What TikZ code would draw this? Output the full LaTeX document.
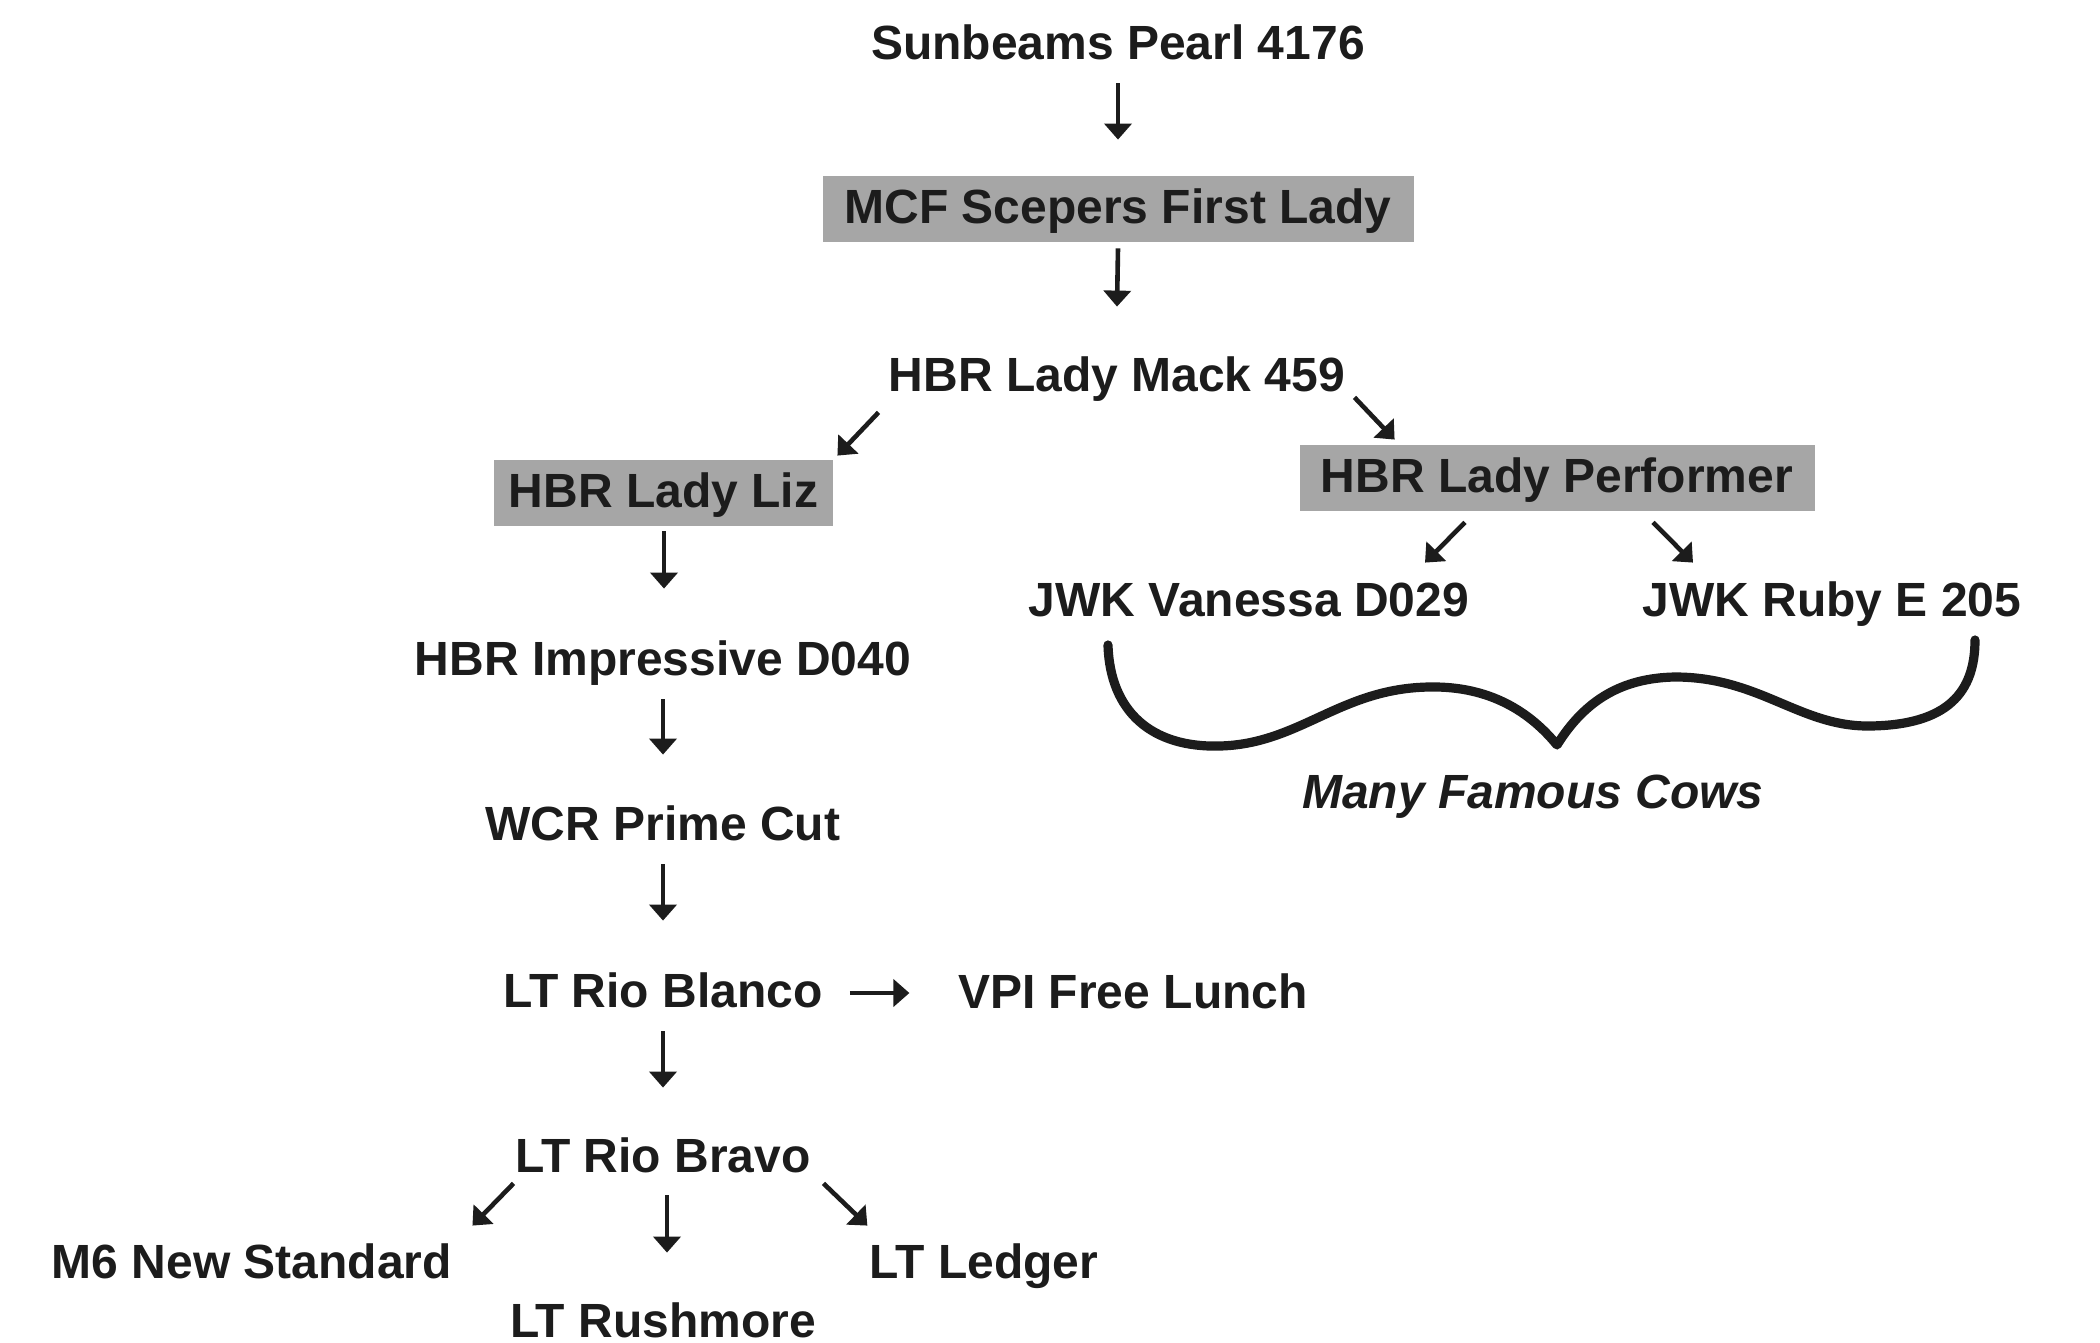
\documentclass[tikz,border=0pt]{standalone}
\usepackage{fontspec}
\setmainfont{Liberation Sans}
\usetikzlibrary{arrows.meta}
\definecolor{ink}{RGB}{28,28,28}
\definecolor{boxgray}{RGB}{166,166,166}
\begin{document}
\begin{tikzpicture}[x=0.5pt,y=-0.5pt,
  every node/.style={font=\fontsize{24pt}{28pt}\selectfont\bfseries, text=ink},
  lbl/.style={anchor=base, inner sep=0pt, text height=17.5pt, text depth=0pt},
  graybox/.style={anchor=base, fill=boxgray, inner xsep=0pt, inner ysep=0pt, text height=23.5pt, text depth=9.5pt},
  arr/.style={draw=ink, line width=2.3pt, -{Triangle[width=13.5pt,length=8pt]}},
  bracestyle/.style={draw=ink, line width=4.6pt, line cap=round, line join=round}]
\useasboundingbox (0,0) rectangle (2100,1343);

% nodes
\node[lbl] (sun) at (1118,60) {Sunbeams Pearl 4176};
\node[graybox, minimum width=295.5pt] (mcf) at (1118,223) {MCF Scepers First Lady};
\node[lbl] (mack) at (1117,391) {HBR Lady Mack 459};
\node[graybox, minimum width=169.5pt] (liz) at (663.5,507) {HBR Lady Liz};
\node[graybox, minimum width=257.5pt] (perf) at (1557,492) {HBR Lady Performer};
\node[lbl] (van) at (1249,616) {JWK Vanessa D029};
\node[lbl] (ruby) at (1832,616) {JWK Ruby E 205};
\node[lbl, font=\fontsize{24pt}{28pt}\selectfont\bfseries\itshape] (cows) at (1533,808) {Many Famous Cows};
\node[lbl] (imp) at (663,675) {HBR Impressive D040};
\node[lbl] (wcr) at (663,840) {WCR Prime Cut};
\node[lbl] (blanco) at (663,1007) {LT Rio Blanco};
\node[lbl] (vpi) at (1133,1008) {VPI Free Lunch};
\node[lbl] (bravo) at (663,1172) {LT Rio Bravo};
\node[lbl] (m6) at (252,1278) {M6 New Standard};
\node[lbl] (ledger) at (984,1278) {LT Ledger};
\node[lbl] (rush) at (663,1337) {LT Rushmore};

% connectors
\draw[arr] ([shift={(0,23)}]sun.south) -- ([shift={(0,-36)}]mcf.north);
\draw[arr] ([shift={(0,6)}]mcf.south) -- ([shift={(0,-49)}]mack.north);
\draw[arr] ([shift={(-10,21)}]mack.south west) -- ([shift={(4,-4)}]liz.north east);
\draw[arr] ([shift={(9,6)}]mack.south east) -- ([shift={(95.5,-5)}]perf.north west);
\draw[arr] ([shift={(0.5,5)}]liz.south) -- ([shift={(1,-51)}]imp.north);
\draw[arr] ([shift={(-92,11)}]perf.south) -- ([shift={(176,-18)}]van.north);
\draw[arr] ([shift={(96,11)}]perf.south) -- ([shift={(-139,-18)}]ruby.north);
\draw[arr] ([shift={(0,24)}]imp.south) -- ([shift={(0,-50)}]wcr.north);
\draw[arr] ([shift={(0,24)}]wcr.south) -- ([shift={(0,-51)}]blanco.north);
\draw[arr] ([shift={(27,3.5)}]blanco.east) -- ([shift={(-48.5,2.5)}]vpi.west);
\draw[arr] ([shift={(0,24)}]blanco.south) -- ([shift={(0,-49)}]bravo.north);
\draw[arr] ([shift={(-1.5,11)}]bravo.south west) -- ([shift={(20,-17)}]m6.north east);
\draw[arr] ([shift={(4,23)}]bravo.south) -- ([shift={(4,-49)}]rush.north);
\draw[arr] ([shift={(12.5,11)}]bravo.south east) -- ([shift={(-2,-17)}]ledger.north west);

% brace
\coordinate (braceL) at (1108,645);
\coordinate (braceR) at (1975,640);
\draw[bracestyle] (braceL)
  .. controls (1110,712) and (1152,748) .. (1220,746)
  .. controls (1300,744) and (1340,688) .. (1430,687)
  .. controls (1490,686) and (1530,712) .. (1557,745)
  .. controls (1585,700) and (1622,678) .. (1675,677)
  .. controls (1760,677) and (1800,727) .. (1870,726)
  .. controls (1948,725) and (1975,692) .. (braceR);
\end{tikzpicture}
\end{document}
